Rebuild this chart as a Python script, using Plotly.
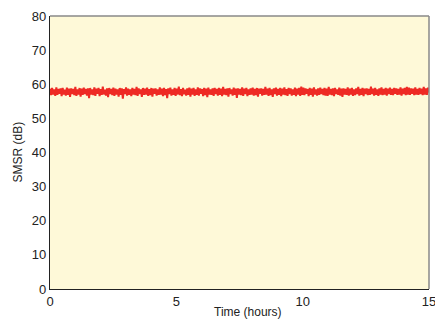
import numpy as np
import plotly.graph_objects as go

# SMSR readings (dB), in time order
smsr_db = [
    58.7,56.8,58.9,57.0,58.5,56.6,59.1,56.9,58.6,57.2,58.8,56.5,58.9,57.0,58.4,56.7,59.0,56.9,58.7,56.3,
    58.8,57.1,58.6,56.8,59.2,56.6,58.5,57.0,58.9,56.4,58.7,56.9,59.0,57.1,58.6,56.7,58.8,55.9,58.9,57.0,
    58.5,56.8,59.1,56.6,58.7,57.2,58.9,56.5,58.6,56.9,59.3,57.0,58.4,56.7,58.8,56.2,58.9,57.1,58.6,56.8,
    59.0,56.6,58.7,57.0,58.5,56.4,58.9,56.9,58.8,55.8,58.6,57.1,59.1,56.7,58.7,56.9,58.5,56.5,58.9,57.0,
    58.6,56.8,59.2,56.6,58.8,57.1,58.5,56.3,58.9,56.9,58.7,57.0,59.0,56.6,58.6,56.8,58.9,56.4,58.7,57.2,
    58.8,56.7,58.5,56.9,59.1,57.0,58.7,56.5,58.9,56.8,58.6,55.9,58.8,57.1,59.0,56.7,58.5,56.9,58.9,56.6,
    58.7,57.0,59.3,56.8,58.6,56.5,58.9,57.1,58.4,56.7,58.8,56.9,59.0,56.4,58.7,57.0,58.9,56.6,58.5,56.9,
    59.1,56.7,58.8,57.2,58.6,56.5,58.9,56.8,58.7,56.2,59.0,57.0,58.5,56.9,58.8,56.6,58.9,57.1,58.6,56.7,
    58.9,56.9,58.7,56.5,59.2,57.0,58.6,56.8,58.8,56.4,58.9,57.1,58.5,56.7,59.0,56.9,58.7,56.0,58.8,57.0,
    58.6,56.8,59.1,56.6,58.7,57.1,58.9,56.5,58.5,56.9,58.8,57.0,59.0,56.7,58.6,56.8,58.9,56.4,58.7,57.2,
    58.8,56.7,58.6,56.9,59.2,57.0,58.7,56.6,58.9,56.8,58.5,56.3,58.8,57.1,59.0,56.7,58.6,56.9,58.9,56.5,
    58.7,57.0,59.1,56.8,58.6,56.6,58.9,57.1,58.8,56.7,58.5,56.9,59.0,56.5,58.7,57.0,58.9,56.6,59.3,56.9,
    59.0,56.8,58.8,57.2,58.6,56.5,58.9,56.9,58.7,56.4,59.1,57.0,58.5,56.7,58.8,56.9,59.0,57.1,58.6,56.8,
    58.9,56.7,58.7,56.6,59.2,57.0,58.6,56.8,58.8,56.5,58.9,57.1,58.5,56.9,59.0,56.7,58.7,56.3,58.8,57.0,
    58.6,56.9,59.1,56.7,58.7,57.0,58.9,56.6,58.5,56.8,58.8,57.1,59.2,56.7,58.6,56.9,58.9,56.5,58.7,57.1,
    58.8,56.8,58.6,56.9,59.3,57.1,58.7,56.7,58.9,56.9,58.5,56.6,58.8,57.0,59.1,56.8,58.6,57.0,58.9,56.7,
    58.7,57.1,59.0,56.9,58.6,56.8,58.9,57.2,58.8,56.9,58.6,57.0,59.1,56.7,58.7,57.1,58.9,56.8,59.2,57.0,
    59.0,56.9,58.8,57.2,58.7,56.8,59.1,57.0,58.6,56.9,58.9,57.1,58.7,56.8,59.2,57.0,58.8,56.9,59.0,57.6,
]
# sample times (hours), evenly spaced over the 15-hour run
time_h = np.linspace(0, 15, len(smsr_db))

x_ticks = [0, 5, 10, 15]
y_ticks = [0, 10, 20, 30, 40, 50, 60, 70, 80]
x_title = "Time (hours)"
y_title = "SMSR (dB)"

FONT = "Liberation Sans Narrow, Arial Narrow, Liberation Sans, Arial, sans-serif"

fig = go.Figure()
fig.add_trace(go.Scatter(
    x=time_h, y=smsr_db, mode="lines",
    line=dict(color="#EE2A24", width=2),
    showlegend=False, hoverinfo="skip",
))

fig.update_layout(
    width=435, height=320,
    margin=dict(l=50, r=6, t=16, b=31),
    paper_bgcolor="white",
    plot_bgcolor="#FEF9D8",
    font=dict(family=FONT, color="#222222"),
    xaxis=dict(
        range=[0, 15], tickvals=x_ticks, ticktext=[str(v) for v in x_ticks],
        showgrid=False, zeroline=False, ticks="", automargin=False,
        ticklabeloverflow="allow",
        showline=True, linecolor="#222222", linewidth=1.2,
        tickfont=dict(size=13, family=FONT),
    ),
    yaxis=dict(
        range=[0, 80], tickvals=y_ticks, ticktext=[str(v) for v in y_ticks],
        showgrid=False, zeroline=False, ticks="", automargin=False,
        ticklabeloverflow="allow",
        showline=True, linecolor="#222222", linewidth=1.2,
        tickfont=dict(size=13, family=FONT),
    ),
    annotations=[
        dict(text=x_title, xref="paper", yref="paper", x=0.522, y=0,
             yshift=-23, xanchor="center", yanchor="middle", showarrow=False,
             font=dict(size=12, family=FONT, color="#222222")),
        dict(text=y_title, xref="paper", yref="paper", x=0, y=0.5,
             xshift=-33, xanchor="center", yanchor="middle", showarrow=False,
             textangle=-90, font=dict(size=12, family=FONT, color="#222222")),
    ],
)

# gray top/right frame
fig.add_shape(type="line", xref="paper", yref="paper", x0=0, x1=1, y0=1, y1=1,
              line=dict(color="#888888", width=1.5))
fig.add_shape(type="line", xref="paper", yref="paper", x0=1, x1=1, y0=0, y1=1,
              line=dict(color="#888888", width=1.5))

# remove the page's default body margin so the figure fills the window exactly
fig.write_html("out.html",
               config={"displayModeBar": False},
               post_script="document.body.style.margin='0';document.body.style.overflow='hidden';")
